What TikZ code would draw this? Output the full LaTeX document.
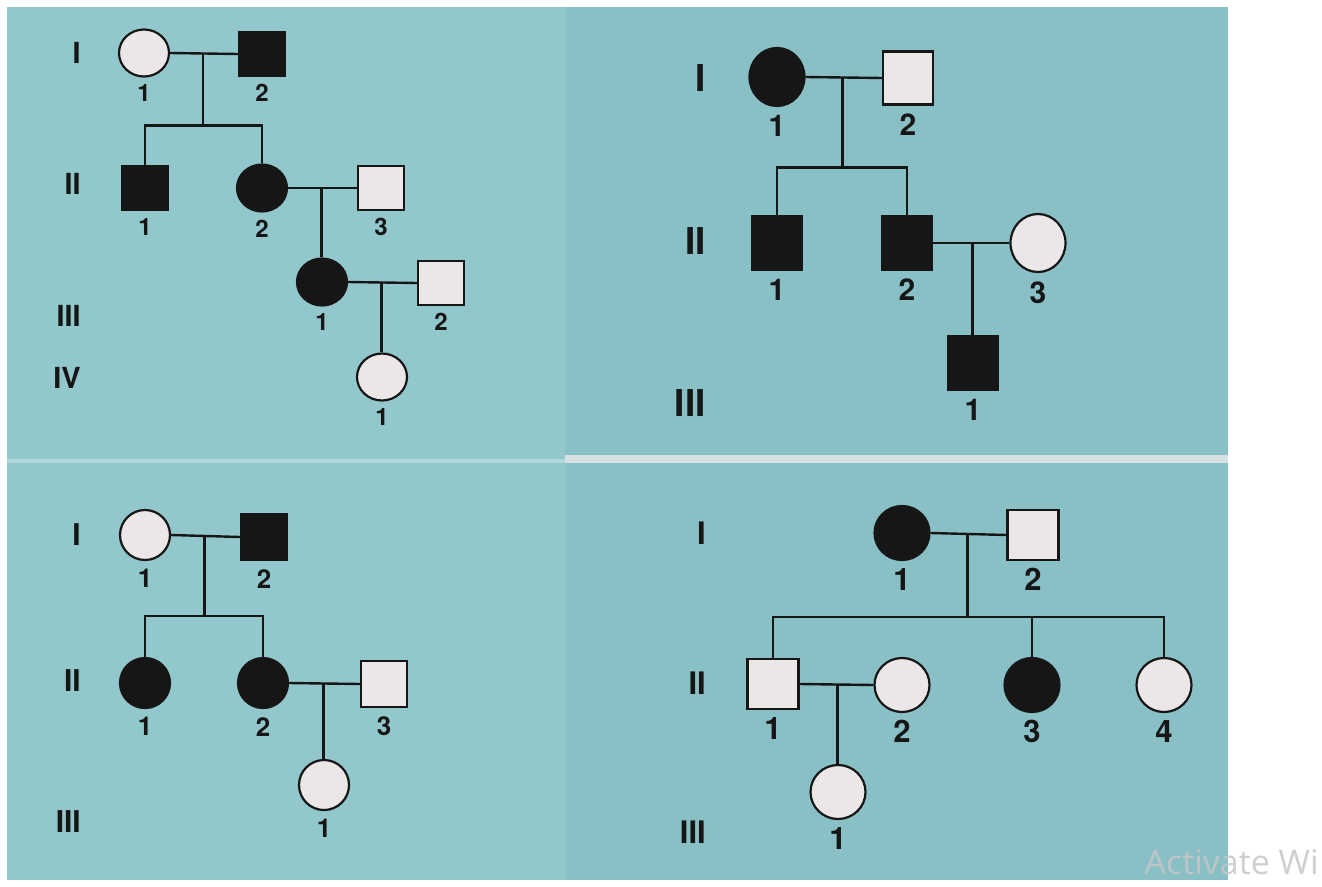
\documentclass[tikz,border=0pt]{standalone}
\usepackage{fontspec}
\setmainfont{TeX Gyre Heros}
\newfontfamily\wmfamily{Open Sans}
\usetikzlibrary{calc,shapes.geometric}

\definecolor{ink}{RGB}{22,22,22}
\definecolor{pale}{RGB}{236,231,231}
\definecolor{bgleft}{RGB}{146,199,203}
\definecolor{bgright}{RGB}{137,192,198}
\definecolor{band}{RGB}{214,226,226}

\newcommand{\numfont}{\fontsize{\numsize}{\numsize}\selectfont\bfseries}
\newcommand{\romfont}{\fontsize{\romsize}{\romsize}\selectfont\bfseries}

\tikzset{
  ind/.style={draw=ink, line width=2.2pt, inner sep=0pt, fill=pale},
  male/.style={ind, rectangle, minimum width=\sqw, minimum height=\sqh},
  female/.style={ind, ellipse, minimum width=\cw, minimum height=\ch},
  aff/.style={fill=ink},
  line/.style={draw=ink, line width=2.4pt},
  gen/.style={font=\romfont, text=ink, anchor=east, inner sep=0pt},
  every label/.style={font=\numfont, text=ink, inner sep=0pt},
}

\begin{document}
\begin{tikzpicture}[x=1pt, y=-1pt]
  \useasboundingbox (0,0) rectangle (1322,886);
  \fill[white] (0,0) rectangle (1322,886);
  \fill[bgleft] (7,7) rectangle (565,880);
  \fill[bgright] (565,7) rectangle (1228,880);
  \fill[band] (565,455) rectangle (1228,463);
  \fill[bgleft!70!white] (7,459) rectangle (565,463);

  \node[anchor=base east, text=black!22, opacity=0.85, inner sep=0pt,
    font=\wmfamily\fontsize{34}{34}\selectfont]
    (wm) at (1319,874) {Activate Wi};

  % top left
  \begin{scope}[label distance=7pt]
    \def\sqw{46}\def\sqh{44}\def\cw{50}\def\ch{47}
    \def\numsize{24}\def\romsize{29}
    \foreach \g/\y in {I/53, II/184, III/316, IV/378}
      \node[gen] (A\g) at (81,\y) {\g};

    \node[female] (A11) at (144,53) [label=below:1] {};
    \node[male, aff] (A12) at (262,54) [label=below:2] {};
    \node[male, aff] (A21) at (145,188) [label=below:1] {};
    \node[female, aff] (A22) at (262,188) [label=below:2] {};
    \node[male] (A23) at (381,188) [label=below:3] {};
    \node[female, aff] (A31) at (322,282) [label=below:1] {};
    \node[male] (A32) at (441,283) [label=below:2] {};
    \node[female] (A41) at (382,377) [label=below:1] {};

    \draw[line] (A11.east) -- (A12.west);
    \coordinate (A1m) at ($(A11)!.5!(A12)$);
    \coordinate (A1s) at ($(A1m)+(0,72)$);
    \draw[line] (A1m) -- (A1s);
    \draw[line] (A21.north) |- (A1s) -| (A22.north);

    \draw[line] (A22.east) -- (A23.west);
    \coordinate (A2m) at ($(A22)!.5!(A23)$);
    \draw[line] (A2m) -- (A2m |- A31.north);

    \draw[line] (A31.east) -- (A32.west);
    \coordinate (A3m) at ($(A31)!.5!(A32)$);
    \draw[line] (A3m) -- (A3m |- A41.north);
  \end{scope}

  % top right
  \begin{scope}[label distance=8pt]
    \def\sqw{50}\def\sqh{53}\def\cw{55}\def\ch{58}
    \def\numsize{30}\def\romsize{37}
    \foreach \g/\y in {I/78, II/241, III/403}
      \node[gen] (B\g) at (706,\y) {\g};

    \node[female, aff] (B11) at (777,77) [label=below:1] {};
    \node[male] (B12) at (908,78) [label=below:2] {};
    \node[male, aff] (B21) at (777,243) [label=below:1] {};
    \node[male, aff] (B22) at (907,243) [label=below:2] {};
    \node[female] (B23) at (1038,243) [label=below:3] {};
    \node[male, aff] (B31) at (973,363) [label=below:1] {};

    \draw[line] (B11.east) -- (B12.west);
    \coordinate (B1m) at ($(B11)!.5!(B12)$);
    \coordinate (B1s) at ($(B1m)+(0,90)$);
    \draw[line] (B1m) -- (B1s);
    \draw[line] (B21.north) |- (B1s) -| (B22.north);

    \draw[line] (B22.east) -- (B23.west);
    \coordinate (B2m) at ($(B22)!.5!(B23)$);
    \draw[line] (B2m) -- (B2m |- B31.north);
  \end{scope}

  % bottom left
  \begin{scope}[label distance=8pt]
    \def\sqw{46}\def\sqh{46}\def\cw{50}\def\ch{50}
    \def\numsize{26}\def\romsize{30}
    \foreach \g/\y in {I/535, II/681, III/822}
      \node[gen] (C\g) at (81,\y) {\g};

    \node[female] (C11) at (145,535) [label=below:1] {};
    \node[male, aff] (C12) at (264,537) [label=below:2] {};
    \node[female, aff] (C21) at (145,683) [label=below:1] {};
    \node[female, aff] (C22) at (263,683) [label=below:2] {};
    \node[male] (C23) at (384,684) [label=below:3] {};
    \node[female] (C31) at (324,785) [label=below:1] {};

    \draw[line] (C11.east) -- (C12.west);
    \coordinate (C1m) at ($(C11)!.5!(C12)$);
    \coordinate (C1s) at ($(C1m)+(0,80)$);
    \draw[line] (C1m) -- (C1s);
    \draw[line] (C21.north) |- (C1s) -| (C22.north);

    \draw[line] (C22.east) -- (C23.west);
    \coordinate (C2m) at ($(C22)!.5!(C23)$);
    \draw[line] (C2m) -- (C2m |- C31.north);
  \end{scope}

  % bottom right
  \begin{scope}[label distance=7pt]
    \def\sqw{51}\def\sqh{50}\def\cw{55}\def\ch{54}
    \def\numsize{31}\def\romsize{31}
    \foreach \g/\y in {I/533, II/683, III/832}
      \node[gen] (D\g) at (706,\y) {\g};

    \node[female, aff] (D11) at (902,533) [label=below:1] {};
    \node[male] (D12) at (1033,535) [label=below:2] {};
    \node[male] (D21) at (773,684) [label=below:1] {};
    \node[female] (D22) at (902,685) [label=below:2] {};
    \node[female, aff] (D23) at (1032,685) [label=below:3] {};
    \node[female] (D24) at (1164,685) [label=below:4] {};
    \node[female] (D31) at (838,792) [label=below:1] {};

    \draw[line] (D11.east) -- (D12.west);
    \coordinate (D1m) at ($(D11)!.5!(D12)$);
    \coordinate (D1s) at ($(D1m)+(0,83)$);
    \draw[line] (D1m) -- (D1s);
    \draw[line] (D21.north) |- (D1s) -| (D24.north);
    \draw[line] (D23 |- D1s) -- (D23.north);

    \draw[line] (D21.east) -- (D22.west);
    \coordinate (D2m) at ($(D21)!.5!(D22)$);
    \draw[line] (D2m) -- (D2m |- D31.north);
  \end{scope}
\end{tikzpicture}
\end{document}
